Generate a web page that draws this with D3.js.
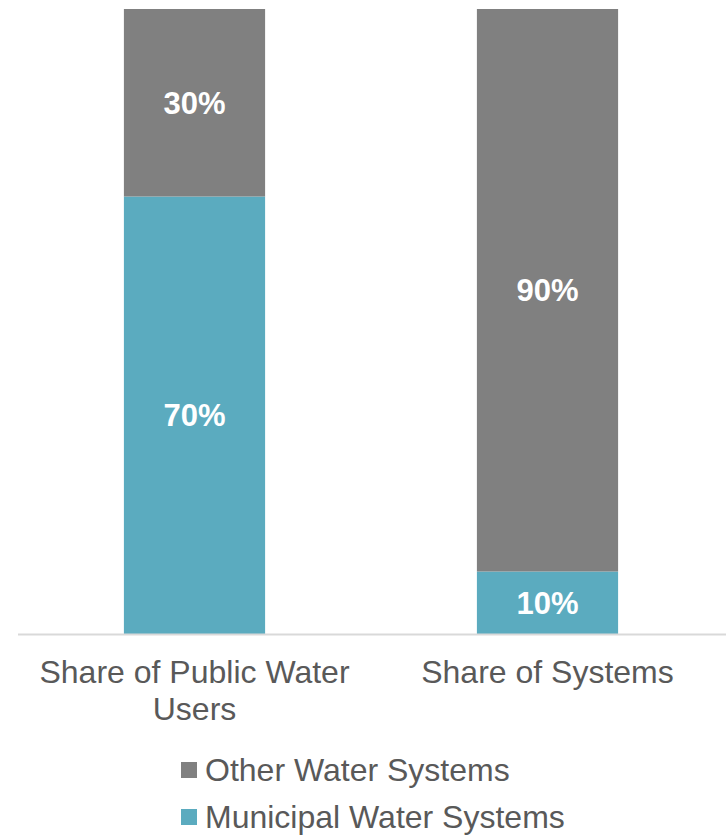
<!DOCTYPE html>
<html><head><meta charset="utf-8">
<script src="https://cdn.jsdelivr.net/npm/d3@7"></script>
<style>html,body{margin:0;padding:0;background:#fff}svg{display:block}</style>
</head><body>
<svg id="c" width="726" height="835"></svg>
<script>
const categories = ["Share of Public Water Users", "Share of Systems"];
const categoryLines = [["Share of Public Water", "Users"], ["Share of Systems"]];
const seriesNames = ["Municipal Water Systems", "Other Water Systems"];
const municipal = [70, 10];
const other = [30, 90];
const colors = ["#5BABBF", "#808080"];

const FONT = "'Liberation Sans', Arial, sans-serif";
const svg = d3.select("#c");
const margin = {left: 18, right: 2, top: 9, bottom: 201};
const W = 726, H = 835;
const x = d3.scaleBand().domain(categories).range([margin.left, W - margin.right]).paddingInner(0.6).paddingOuter(0.3);
const y = d3.scaleLinear().domain([0, 100]).range([H - margin.bottom, margin.top]);

const rows = categories.map((c, i) => ({cat: c, [seriesNames[0]]: municipal[i], [seriesNames[1]]: other[i]}));
const stack = d3.stack().keys(seriesNames)(rows);

const g = svg.append("g");
stack.forEach((layer, li) => {
  g.selectAll(null).data(layer).enter().append("rect")
    .attr("x", d => x(d.data.cat))
    .attr("width", x.bandwidth())
    .attr("y", d => y(d[1]))
    .attr("height", d => y(d[0]) - y(d[1]))
    .attr("fill", colors[li]);
  g.selectAll(null).data(layer).enter().append("text")
    .attr("x", d => x(d.data.cat) + x.bandwidth() / 2)
    .attr("y", d => (y(d[0]) + y(d[1])) / 2)
    .attr("dy", "0.36em")
    .attr("text-anchor", "middle")
    .attr("font-family", FONT)
    .attr("font-weight", "bold")
    .attr("font-size", 31)
    .attr("fill", "#fff")
    .text(d => (d[1] - d[0]) + "%");
});

// axis line
svg.append("line")
  .attr("x1", 18).attr("x2", W).attr("y1", y(0) + 0.5).attr("y2", y(0) + 0.5)
  .attr("stroke", "#d9d9d9").attr("stroke-width", 2);

// category labels
categories.forEach((c, i) => {
  const t = svg.append("text")
    .attr("x", x(c) + x.bandwidth() / 2)
    .attr("y", 683)
    .attr("text-anchor", "middle")
    .attr("font-family", FONT)
    .attr("font-size", 32)
    .attr("fill", "#595959");
  categoryLines[i].forEach((line, k) => {
    t.append("tspan").attr("x", x(c) + x.bandwidth() / 2).attr("dy", k === 0 ? 0 : 37).text(line);
  });
});

// legend (reverse order: Other first)
const legendOrder = [1, 0];
legendOrder.forEach((si, k) => {
  const ly = 781 + k * 47;
  svg.append("rect").attr("x", 181).attr("y", ly - 19).attr("width", 16).attr("height", 16).attr("fill", colors[si]);
  svg.append("text").attr("x", 205).attr("y", ly)
    .attr("font-family", FONT)
    .attr("font-size", 32).attr("fill", "#595959")
    .text(seriesNames[si]);
});
</script>
</body></html>
